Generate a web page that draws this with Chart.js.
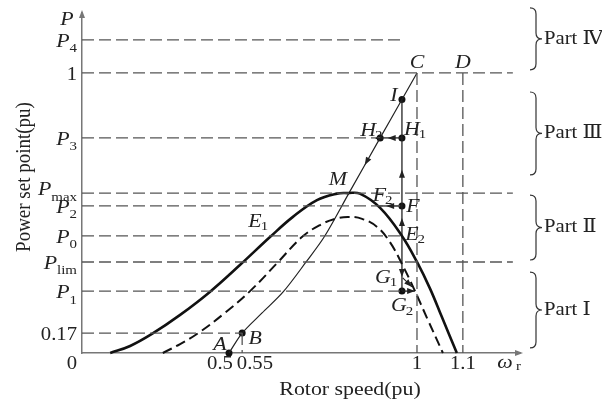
<!DOCTYPE html>
<html>
<head>
<meta charset="utf-8">
<script src="https://cdn.jsdelivr.net/npm/chart.js@4/dist/chart.umd.min.js"></script>
<style>
  body { margin: 0; background: #fff; }
  canvas { display: block; }
</style>
</head>
<body>
<canvas id="chart" width="602" height="403"></canvas>
<script>
// the figure is schematic: tick labels are not to scale
const levelMain = ['P', '1', 'P', 'P', 'P', 'P', 'P', 'P', '0.17', '0'];
const levelSub  = ['4', '',  '3', 'max', '2', '0', 'lim', '1', '', ''];
const levelValues = [1.118, 1.0, 0.768, 0.571, 0.525, 0.418, 0.325, 0.221, 0.071, 0];
const levelEnds   = [0.963, 1.255, 0.902, 1.255, 0.960, 0.960, 1.255, 0.960, 0.535, null];

const xTickValues = [0.476, 0.569, 1.0, 1.122];
const xTickLabels = ['0.5', '0.55', '1', '1.1'];

// vertical dashed guides
const guideX   = [1.0, 1.122, 0.535];
const guideTop = [1.0, 1.0, 0.071];

// maximum power curve (thick)
const maxSpeed = [0.184, 0.237, 0.295, 0.370, 0.449, 0.529, 0.609, 0.670, 0.734, 0.787, 0.816, 0.848, 0.902, 0.960, 1.0, 1.035, 1.066, 1.106];
const maxPower = [0, 0.025, 0.068, 0.136, 0.218, 0.314, 0.414, 0.486, 0.546, 0.569, 0.571, 0.569, 0.518, 0.418, 0.325, 0.229, 0.129, 0];

// reduced power curve (dashed)
const redSpeed = [0.324, 0.370, 0.418, 0.489, 0.556, 0.628, 0.694, 0.742, 0.782, 0.816, 0.854, 0.894, 0.928, 0.960, 0.992, 1.029, 1.069];
const redPower = [0, 0.032, 0.071, 0.143, 0.221, 0.321, 0.414, 0.457, 0.479, 0.486, 0.479, 0.450, 0.396, 0.318, 0.229, 0.118, 0];

// operating trajectory A -> B -> ... -> C (thin)
const pathSpeed = [0.5, 0.535, 0.588, 0.644, 0.705, 0.753, 0.819, 0.902, 0.960, 1.0];
const pathPower = [0, 0.071, 0.143, 0.218, 0.325, 0.414, 0.571, 0.768, 0.905, 1.0];

// vertical jump line
const jumpX = 0.96;
const jumpFrom = 0.221;
const jumpTo = 0.905;

// marked points
const dotNames = ['A', 'B', 'I', 'H2', 'H1', 'F', 'G2'];
const dotX = [0.5, 0.535, 0.96, 0.902, 0.96, 0.96, 0.96];
const dotY = [0, 0.071, 0.905, 0.768, 0.768, 0.525, 0.221];

// parts on the right
const partNames = ['Part \u2160', 'Part \u2161', 'Part \u2162', 'Part \u2163'];
const partLow  = [0.018, 0.332, 0.636, 1.011];
const partHigh = [0.289, 0.564, 0.932, 1.232];

const SX = 1.15; // text in the source is a bit wider than Times
const SERIF = '"Liberation Serif", "DejaVu Serif", "Noto Sans CJK SC", serif';

function xy(xs, ys) {
    return xs.map((x, i) => ({ x: x, y: ys[i] }));
}

function line(data, color, width, dash, tension) {
    return {
        data: data,
        showLine: true,
        pointRadius: 0,
        borderColor: color,
        borderWidth: width,
        borderDash: dash || [],
        tension: tension || 0,
        fill: false,
        clip: false
    };
}

const datasets = [];
levelValues.forEach((v, i) => {
    if (levelEnds[i] === null) return;
    datasets.push(line([{ x: 0.109, y: v }, { x: levelEnds[i], y: v }], '#555', 1.3, [12, 5]));
});
guideX.forEach((x, i) => {
    datasets.push(line([{ x: x, y: guideTop[i] }, { x: x, y: 0 }], '#555', 1.3, [12, 5]));
});
datasets.push(line(xy(redSpeed, redPower), '#111', 2, [10, 5], 0.4));
datasets.push(line(xy(maxSpeed, maxPower), '#111', 2.6, null, 0.4));
datasets.push(line(xy(pathSpeed, pathPower), '#222', 1.2, null, 0.3));
datasets.push(line([{ x: jumpX, y: jumpFrom }, { x: jumpX, y: jumpTo }], '#222', 1.3));
// short moves: H1 -> H2, F -> F2, G2 -> right, G1 -> down-right
datasets.push(line([{ x: 0.96, y: 0.768 }, { x: 0.902, y: 0.768 }], '#222', 1.3));
datasets.push(line([{ x: 0.96, y: 0.525 }, { x: 0.90, y: 0.525 }], '#222', 1.3));
datasets.push(line([{ x: 0.96, y: 0.221 }, { x: 0.993, y: 0.221 }], '#222', 1.3));
datasets.push(line([{ x: 0.962, y: 0.268 }, { x: 0.987, y: 0.236 }], '#222', 1.1));
datasets.push({
    data: xy(dotX, dotY),
    showLine: false,
    pointRadius: 3.5,
    pointBackgroundColor: '#111',
    pointBorderWidth: 0,
    clip: false
});

// arrowheads [fromX, fromY, toX, toY]
const heads = [
    [0.902, 0.768, 0.861, 0.671],
    [0.96, 0.768, 0.922, 0.768],
    [0.96, 0.525, 0.918, 0.525],
    [0.96, 0.40, 0.96, 0.482],
    [0.96, 0.60, 0.96, 0.654],
    [0.96, 0.35, 0.96, 0.271],
    [0.962, 0.268, 0.987, 0.236],
    [0.96, 0.221, 0.995, 0.221]
];

// point names: text, subscript, anchor, pixel offset
const notes = [
    ['A', '', 0.5, 0, -9, -8],
    ['B', '', 0.535, 0.071, 13, 6],
    ['C', '', 1.0, 1.0, 0, -10],
    ['D', '', 1.122, 1.0, 0, -10],
    ['I', '', 0.96, 0.905, -8, -4],
    ['H', '2', 0.902, 0.768, -12, -7],
    ['H', '1', 0.96, 0.768, 10, -8],
    ['M', '', 0.816, 0.571, -10, -13],
    ['F', '2', 0.90, 0.525, 0, -10],
    ['F', '', 0.96, 0.525, 11, 1],
    ['E', '1', 0.609, 0.414, -15, -15],
    ['E', '2', 0.96, 0.418, 10, -1],
    ['G', '1', 0.96, 0.275, -19, 2],
    ['G', '2', 0.96, 0.221, -3, 15]
];

function put(ctx, s, x, y, font, align) {
    ctx.save();
    ctx.translate(x, y);
    ctx.scale(SX, 1);
    ctx.font = font;
    ctx.textAlign = align || 'center';
    ctx.textBaseline = 'middle';
    ctx.fillText(s, 0, 0);
    ctx.restore();
}

function width(ctx, s, font) {
    ctx.save();
    ctx.font = font;
    const w = ctx.measureText(s).width * SX;
    ctx.restore();
    return w;
}

function arrowHead(ctx, x1, y1, x2, y2) {
    const a = Math.atan2(y2 - y1, x2 - x1);
    const len = 8, half = 3;
    ctx.beginPath();
    ctx.moveTo(x2, y2);
    ctx.lineTo(x2 - len * Math.cos(a) + half * Math.sin(a), y2 - len * Math.sin(a) - half * Math.cos(a));
    ctx.lineTo(x2 - len * Math.cos(a) - half * Math.sin(a), y2 - len * Math.sin(a) + half * Math.cos(a));
    ctx.closePath();
    ctx.fill();
}

function brace(ctx, x, y1, y2, w) {
    const ym = (y1 + y2) / 2, r = w / 2, xm = x + w / 2;
    ctx.beginPath();
    ctx.moveTo(x, y1);
    ctx.quadraticCurveTo(xm, y1, xm, y1 + r);
    ctx.lineTo(xm, ym - r);
    ctx.quadraticCurveTo(xm, ym, x + w, ym);
    ctx.quadraticCurveTo(xm, ym, xm, ym + r);
    ctx.lineTo(xm, y2 - r);
    ctx.quadraticCurveTo(xm, y2, x, y2);
    ctx.stroke();
}

const decorations = {
    id: 'decorations',
    afterDraw(chart) {
        const ctx = chart.ctx;
        const xs = chart.scales.x, ys = chart.scales.y;
        const area = chart.chartArea;
        const italic = 'italic 19px ' + SERIF;
        const roman = '18px ' + SERIF;
        const small = '13px ' + SERIF;
        ctx.save();
        ctx.fillStyle = '#222';
        ctx.strokeStyle = '#222';

        // axis arrows
        ctx.fillStyle = '#777';
        arrowHead(ctx, area.left, area.top + 20, area.left, area.top - 3);
        arrowHead(ctx, area.right - 20, area.bottom, area.right + 3, area.bottom);
        ctx.fillStyle = '#222';

        heads.forEach(h => {
            arrowHead(ctx, xs.getPixelForValue(h[0]), ys.getPixelForValue(h[1]),
                xs.getPixelForValue(h[2]), ys.getPixelForValue(h[3]));
        });

        // y tick labels
        levelValues.forEach((v, i) => {
            const py = ys.getPixelForValue(v);
            const main = levelMain[i], sub = levelSub[i];
            const mainFont = main === 'P' ? italic : roman;
            let nudge = v === 0 ? 11 : 2;
            if (sub === 'max') nudge = -3;
            const right = area.left - 5;
            const wSub = sub ? width(ctx, sub, small) : 0;
            put(ctx, main, right - wSub, py + nudge, mainFont, 'right');
            if (sub) put(ctx, sub, right - wSub, py + nudge + 7, small, 'left');
        });

        // x tick labels
        xTickValues.forEach((v, i) => {
            put(ctx, xTickLabels[i], xs.getPixelForValue(v), area.bottom + 11, roman);
        });

        // axis symbols
        put(ctx, 'P', area.left - 15, area.top + 7, italic);
        put(ctx, '\u03c9', area.right - 15, area.bottom + 10, italic);
        put(ctx, 'r', area.right - 4, area.bottom + 14, small, 'left');

        // point names
        notes.forEach(n => {
            const px = xs.getPixelForValue(n[2]) + n[4];
            const py = ys.getPixelForValue(n[3]) + n[5];
            put(ctx, n[0], px, py, italic);
            if (n[1]) {
                const w = width(ctx, n[0], italic);
                put(ctx, n[1], px + w / 2 - 1, py + 5, small, 'left');
            }
        });

        // axis titles
        put(ctx, 'Rotor speed(pu)', 350, area.bottom + 37, '19px ' + SERIF);
        ctx.save();
        ctx.translate(24, (area.top + area.bottom) / 2 - 6);
        ctx.rotate(-Math.PI / 2);
        ctx.scale(1, SX);
        ctx.font = '19px ' + SERIF;
        ctx.textAlign = 'center';
        ctx.textBaseline = 'middle';
        ctx.fillText('Power set point(pu)', 0, 0);
        ctx.restore();

        // parts
        ctx.lineWidth = 1.2;
        ctx.strokeStyle = '#333';
        partNames.forEach((name, i) => {
            const y1 = ys.getPixelForValue(partHigh[i]);
            const y2 = ys.getPixelForValue(partLow[i]);
            brace(ctx, area.right + 10, y1, y2, 12);
            put(ctx, name, area.right + 24, (y1 + y2) / 2, roman, 'left');
        });
        ctx.restore();
    }
};

new Chart(document.getElementById('chart'), {
    type: 'line',
    data: { datasets: datasets },
    options: {
        responsive: false,
        animation: false,
        devicePixelRatio: 1,
        layout: { padding: { left: 82, right: 82, top: 13, bottom: 50 } },
        plugins: { legend: { display: false }, tooltip: { enabled: false } },
        scales: {
            x: {
                type: 'linear', min: 0.109, max: 1.274,
                grid: { display: false, drawTicks: false },
                ticks: { display: false },
                border: { display: true, color: '#777', width: 1.5 }
            },
            y: {
                type: 'linear', min: 0, max: 1.214,
                grid: { display: false, drawTicks: false },
                ticks: { display: false },
                border: { display: true, color: '#777', width: 1.5 }
            }
        }
    },
    plugins: [decorations]
});
</script>
</body>
</html>
